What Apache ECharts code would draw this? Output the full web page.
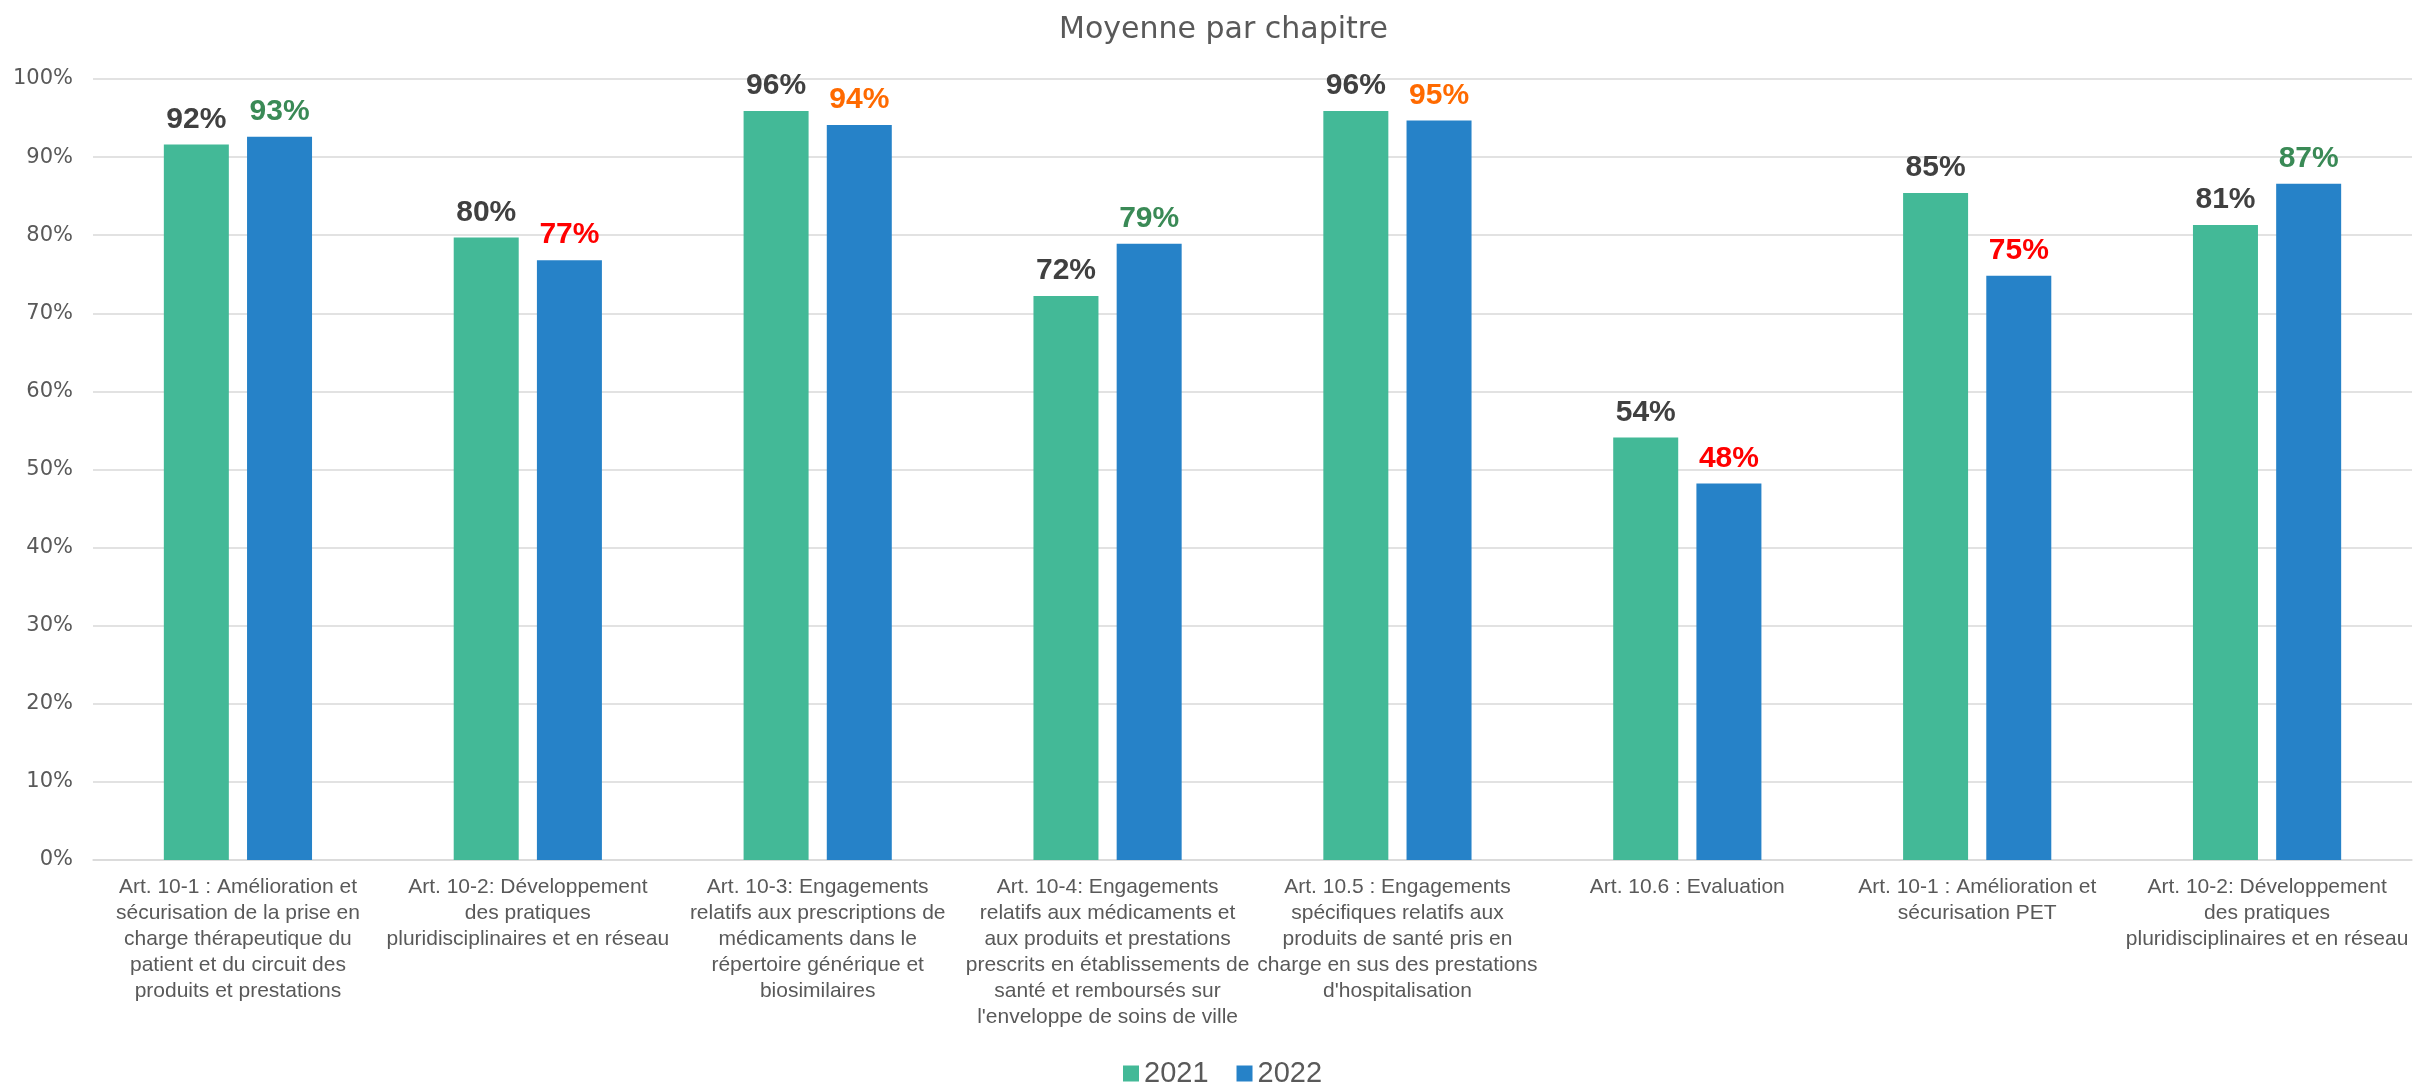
<!DOCTYPE html>
<html>
<head>
<meta charset="utf-8">
<title>Moyenne par chapitre</title>
<script src="https://cdn.jsdelivr.net/npm/echarts@6/dist/echarts.min.js"></script>
<style>
  html, body { margin: 0; padding: 0; background: #ffffff; }
  #chart { width: 2415px; height: 1086px; }
</style>
</head>
<body>
<div id="chart"></div>
<script>
// Chapters (category labels, with their line breaks)
const categories = [
  "Art. 10-1 : Amélioration et\nsécurisation de la prise en\ncharge thérapeutique du\npatient et du circuit des\nproduits et prestations",
  "Art. 10-2: Développement\ndes pratiques\npluridisciplinaires et en réseau",
  "Art. 10-3: Engagements\nrelatifs aux prescriptions de\nmédicaments dans le\nrépertoire générique et\nbiosimilaires",
  "Art. 10-4: Engagements\nrelatifs aux médicaments et\naux produits et prestations\nprescrits en établissements de\nsanté et remboursés sur\nl'enveloppe de soins de ville",
  "Art. 10.5 : Engagements\nspécifiques relatifs aux\nproduits de santé pris en\ncharge en sus des prestations\nd'hospitalisation",
  "Art. 10.6 : Evaluation",
  "Art. 10-1 : Amélioration et\nsécurisation PET",
  "Art. 10-2: Développement\ndes pratiques\npluridisciplinaires et en réseau"
];

// Average score per chapter
const values2021 = [0.916, 0.797, 0.959, 0.722, 0.959, 0.541, 0.854, 0.813];
const values2022 = [0.926, 0.768, 0.941, 0.789, 0.947, 0.482, 0.748, 0.866];

const seriesNames = ["2021", "2022"];
const yTicks = [0, 0.1, 0.2, 0.3, 0.4, 0.5, 0.6, 0.7, 0.8, 0.9, 1.0];

const pct = v => Math.round(v * 100) + "%";

// 2022 label colour depends on the change versus 2021
function trendColor(i) {
  const diff = Math.round(values2022[i] * 100) - Math.round(values2021[i] * 100);
  if (diff > 0) return "#3A8A56";
  if (diff >= -2) return "#FF6A00";
  return "#FF0000";
}

const valueLabel = {
  show: true,
  position: "top",
  distance: 10,
  fontFamily: "Liberation Sans",
  fontSize: 30,
  fontWeight: "bold",
  formatter: p => pct(p.value)
};

const chart = echarts.init(document.getElementById("chart"), null, { renderer: "canvas" });

chart.setOption({
  animation: false,
  backgroundColor: "#ffffff",
  title: {
    text: "Moyenne par chapitre",
    left: 1054,
    top: 10,
    textStyle: {
      fontFamily: "DejaVu Sans",
      fontSize: 30,
      fontWeight: "normal",
      color: "#595959"
    }
  },
  legend: {
    left: 1118,
    top: 1054,
    itemWidth: 16,
    itemHeight: 16,
    itemGap: 28,
    icon: "rect",
    textStyle: {
      fontFamily: "Liberation Sans",
      fontSize: 29,
      color: "#595959"
    },
    data: seriesNames
  },
  grid: {
    left: 93,
    right: 3,
    top: 79,
    bottom: 226,
    containLabel: false
  },
  xAxis: {
    type: "category",
    data: categories,
    axisTick: { show: false },
    axisLine: { show: true, lineStyle: { color: "#D9D9D9", width: 1.5 } },
    axisLabel: {
      interval: 0,
      margin: 14,
      fontFamily: "Liberation Sans",
      fontSize: 21,
      lineHeight: 26,
      color: "#595959",
      align: "center"
    }
  },
  yAxis: {
    type: "value",
    min: yTicks[0],
    max: yTicks[yTicks.length - 1],
    interval: 0.1,
    axisLine: { show: false },
    axisTick: { show: false },
    splitLine: { lineStyle: { color: "#D9D9D9", width: 1.5 } },
    axisLabel: {
      margin: 20,
      fontFamily: "DejaVu Sans",
      fontSize: 21,
      color: "#595959",
      formatter: v => Math.round(v * 100) + "%"
    }
  },
  series: [
    {
      name: seriesNames[0],
      type: "bar",
      data: values2021,
      barWidth: 65,
      barGap: "28%",
      itemStyle: { color: "#43B997" },
      label: Object.assign({}, valueLabel, { color: "#404040" })
    },
    {
      name: seriesNames[1],
      type: "bar",
      data: values2022.map((v, i) => ({
        value: v,
        label: { color: trendColor(i) }
      })),
      barWidth: 65,
      barGap: "28%",
      itemStyle: { color: "#2682C8" },
      label: valueLabel
    }
  ]
});
</script>
</body>
</html>
